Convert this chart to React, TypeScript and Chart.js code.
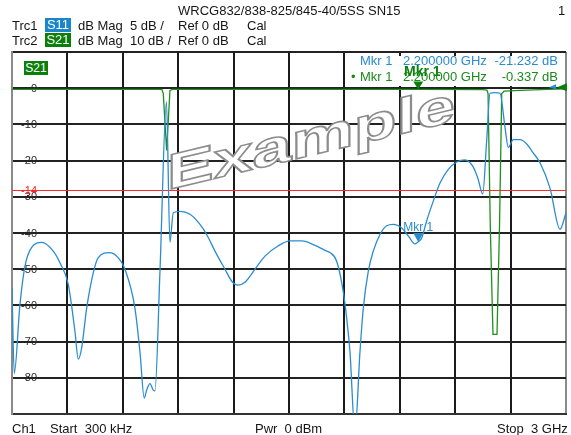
import React, { useEffect, useRef } from 'react';
import { Chart, registerables } from 'chart.js';

Chart.register(...registerables);

// ---------- data ----------
const FREQ_START_GHZ = 0.0003;
const FREQ_STOP_GHZ = 3;
const X_GRID_GHZ = [0.0003, 0.3, 0.6, 0.9, 1.2, 1.5, 1.8, 2.1, 2.4, 2.7, 3.0];

// S21 scale: 10 dB/div, ref 0 dB
const Y_GRID_DB = [10, 0, -10, -20, -30, -40, -50, -60, -70, -80, -90];
const Y_TICK_LABELS = ['', '0', '-10', '-20', '-30', '-40', '-50', '-60', '-70', '-80', ''];
// S11 scale: 5 dB/div, ref 0 dB
const S11_SCALE_MIN = -45;
const S11_SCALE_MAX = 5;

const S11_FREQ = [
  0.0003, 0.0125, 0.0433, 0.0704, 0.1067, 0.1608, 0.2236, 0.2599, 0.3049, 0.3412,
  0.359, 0.3774, 0.4045, 0.4403, 0.4673, 0.5307, 0.5848, 0.6119, 0.6661, 0.6931,
  0.7164, 0.7294, 0.7473, 0.7652, 0.7744, 0.8015, 0.8366, 0.8556, 0.8735, 0.9097,
  0.9639, 1.0181, 1.0543, 1.0993, 1.1534, 1.1913, 1.2238, 1.2617, 1.3159, 1.37,
  1.4404, 1.5054, 1.5704, 1.6408, 1.695, 1.722, 1.7583, 1.794, 1.8125, 1.8303,
  1.8574, 1.8845, 1.9024, 1.9294, 1.9565, 1.9928, 2.029, 2.0648, 2.1103, 2.146,
  2.1823, 2.2, 2.2186, 2.2457, 2.2814, 2.3177, 2.3627, 2.4081, 2.4531, 2.4981,
  2.5235, 2.5489, 2.5706, 2.5885, 2.6156, 2.6426, 2.6697, 2.6876, 2.7146, 2.7509,
  2.7872, 2.8213, 2.8592, 2.9134, 2.9675, 3.0,
];
const S11_DB = [
  -27.6, -39.4, -29.9, -24.6, -22.0, -21.3, -22.5, -24.1, -27.1, -33.6,
  -37.4, -35.9, -30.4, -25.5, -23.4, -22.7, -23.7, -25.0, -30.4, -36.4,
  -42.8, -41.7, -40.8, -41.7, -41.8, -25.3, -1.9, -21.3, -17.2, -17.0,
  -17.4, -18.8, -20.2, -22.5, -25.0, -26.7, -27.2, -26.8, -25.0, -23.2,
  -21.8, -21.1, -21.1, -21.7, -22.4, -22.7, -23.9, -28.1, -31.8, -36.4,
  -47.5, -36.4, -30.4, -25.3, -22.5, -20.2, -19.0, -18.8, -19.3, -20.4,
  -21.5, -21.232, -20.7, -18.3, -15.6, -13.1, -11.2, -10.2, -9.9, -10.9,
  -12.5, -14.6, -7.2, -0.7, -0.6, -0.7, -5.4, -8.2, -7.1, -7.1,
  -7.7, -8.9, -10.3, -13.8, -19.5, -17.2,
];

const S21_FREQ = [
  0.0003, 0.4, 0.8, 0.812, 0.8194, 0.8377, 0.8556, 0.87, 1.5, 2.2,
  2.55, 2.572, 2.578, 2.59, 2.6047, 2.6264, 2.64, 2.652, 2.665, 2.75,
  2.9, 3.0,
];
const S21_DB = [
  -0.3, -0.3, -0.3, -0.4, -1.5, -17.2, -0.6, -0.3, -0.3, -0.337,
  -0.4, -0.5, -1.5, -38, -68, -68, -38, -1.5, -0.8, -0.6,
  -0.3, -0.2,
];

const S11_LIMIT_DB = [-14];
const MARKER_FREQ_GHZ = [2.2];
const MARKER_S11_DB = [-21.232];
const MARKER_S21_DB = [-0.337];
const REF_LEVEL_DB = [0];

// ---------- styles ----------
const BLUE = '#2a8ccf';
const GREEN = '#1f8f1f';
const GREEN_DARK = '#0a7f0a';
const FONT = '"Liberation Sans", Arial, sans-serif';

const overlayPlugin = {
  id: 'vnaOverlay',
  beforeDatasetsDraw(chart: any) {
    const { ctx, chartArea } = chart;
    const ys = chart.scales.y;
    const y2 = chart.scales.y2;

    // watermark
    ctx.save();
    ctx.translate(chartArea.left + 155, 190);
    ctx.transform(1, -0.24, 0, 1, 0, 0);
    ctx.scale(1.4, 1);
    ctx.font = `bold 50px ${FONT}`;
    ctx.textBaseline = 'alphabetic';
    ctx.textAlign = 'left';
    ctx.fillStyle = '#ffffff';
    ctx.fillText('Example', 0, 0);
    ctx.lineWidth = 1.6;
    ctx.strokeStyle = '#8c8c8c';
    ctx.lineJoin = 'miter';
    ctx.strokeText('Example', 0, 0);
    ctx.restore();

    // y tick labels
    ctx.save();
    ctx.font = `11px ${FONT}`;
    ctx.textAlign = 'right';
    ctx.textBaseline = 'middle';
    ctx.fillStyle = '#2a2a2a';
    ys.ticks.forEach((t: any, i: number) => {
      const lbl = Y_TICK_LABELS[Y_GRID_DB.indexOf(t.value)];
      if (!lbl) return;
      ctx.fillText(lbl, chartArea.left + 25, ys.getPixelForValue(t.value) + 0.5);
    });
    ctx.restore();

    // S11 limit line
    S11_LIMIT_DB.forEach((v) => {
      const y = Math.round(y2.getPixelForValue(v)) + 0.5;
      ctx.save();
      ctx.strokeStyle = '#ff2a2a';
      ctx.lineWidth = 1;
      ctx.beginPath();
      ctx.moveTo(chartArea.left, y);
      ctx.lineTo(chartArea.right, y);
      ctx.stroke();
      ctx.font = `11px ${FONT}`;
      ctx.textAlign = 'right';
      ctx.textBaseline = 'middle';
      ctx.fillStyle = '#ff2020';
      ctx.fillText(String(v), chartArea.left + 25, y);
      ctx.restore();
    });

    // marker readout background
    ctx.save();
    ctx.fillStyle = '#ffffff';
    ctx.fillRect(350, 56, chartArea.right - 351, 30);
    ctx.restore();
  },
  afterDatasetsDraw(chart: any) {
    const { ctx, chartArea } = chart;
    const xs = chart.scales.x;
    const ys = chart.scales.y;
    const y2 = chart.scales.y2;
    MARKER_FREQ_GHZ.forEach((f, i) => {
      const x = xs.getPixelForValue(f);
      // S11 marker
      const yb = y2.getPixelForValue(MARKER_S11_DB[i]);
      ctx.save();
      ctx.fillStyle = BLUE;
      ctx.beginPath();
      ctx.moveTo(x - 5, yb - 9);
      ctx.lineTo(x + 5, yb - 9);
      ctx.lineTo(x, yb);
      ctx.closePath();
      ctx.fill();
      ctx.font = `12px ${FONT}`;
      ctx.textAlign = 'center';
      ctx.textBaseline = 'alphabetic';
      ctx.fillText('Mkr 1', x, yb - 11);
      ctx.restore();
      // S21 marker
      const yg = ys.getPixelForValue(MARKER_S21_DB[i]);
      ctx.save();
      ctx.fillStyle = GREEN_DARK;
      ctx.beginPath();
      ctx.moveTo(x - 5, yg - 8);
      ctx.lineTo(x + 5, yg - 8);
      ctx.lineTo(x, yg);
      ctx.closePath();
      ctx.fill();
      ctx.font = `bold 14px ${FONT}`;
      ctx.textAlign = 'center';
      ctx.textBaseline = 'alphabetic';
      ctx.fillText('Mkr 1', x + 4, yg - 13);
      ctx.restore();
    });
    // reference level indicators at right edge
    REF_LEVEL_DB.forEach((v) => {
      const yr = ys.getPixelForValue(v) - 1;
      const xr = chartArea.right;
      ctx.save();
      ctx.fillStyle = BLUE;
      ctx.beginPath();
      ctx.moveTo(xr - 17, yr);
      ctx.lineTo(xr - 10, yr - 3);
      ctx.lineTo(xr - 10, yr + 2);
      ctx.closePath();
      ctx.fill();
      ctx.fillStyle = GREEN_DARK;
      ctx.beginPath();
      ctx.moveTo(xr - 9, yr);
      ctx.lineTo(xr + 1, yr - 4);
      ctx.lineTo(xr + 1, yr + 4);
      ctx.closePath();
      ctx.fill();
      ctx.restore();
    });
  },
};

function Txt(props: { left: number; top: number; children: any; color?: string; right?: number; size?: number }) {
  const s: any = {
    position: 'absolute',
    top: props.top,
    whiteSpace: 'pre',
    fontFamily: FONT,
    fontSize: props.size || 13,
    lineHeight: '15px',
    color: props.color || '#151515',
  };
  if (props.right !== undefined) s.right = props.right;
  else s.left = props.left;
  return <div style={s}>{props.children}</div>;
}

function Badge(props: { left: number; top: number; w: number; h: number; bg: string; text: string; size: number }) {
  return (
    <div
      style={{
        position: 'absolute',
        left: props.left,
        top: props.top,
        width: props.w,
        height: props.h,
        background: props.bg,
        color: '#ffffff',
        fontFamily: FONT,
        fontSize: props.size,
        lineHeight: props.h + 'px',
        textAlign: 'center',
        whiteSpace: 'pre',
      }}
    >
      {props.text}
    </div>
  );
}

export default function App() {
  const ref = useRef<HTMLCanvasElement | null>(null);

  useEffect(() => {
    if (!ref.current) return;
    const chart = new Chart(ref.current, {
      type: 'line',
      data: {
        datasets: [
          {
            label: 'S11',
            data: S11_FREQ.map((f, i) => ({ x: f, y: S11_DB[i] })),
            yAxisID: 'y2',
            borderColor: BLUE,
            borderWidth: 1.3,
            pointRadius: 0,
            fill: false,
            cubicInterpolationMode: 'monotone',
          },
          {
            label: 'S21',
            data: S21_FREQ.map((f, i) => ({ x: f, y: S21_DB[i] })),
            yAxisID: 'y',
            borderColor: GREEN,
            borderWidth: 1.3,
            pointRadius: 0,
            fill: false,
            tension: 0,
          },
        ],
      } as any,
      options: {
        responsive: false,
        maintainAspectRatio: false,
        animation: false,
        events: [],
        layout: { padding: { left: 12, right: 5, top: 52, bottom: 21 } },
        plugins: {
          legend: { display: false },
          tooltip: { enabled: false },
          title: { display: false },
        },
        scales: {
          x: {
            type: 'linear',
            min: FREQ_START_GHZ,
            max: FREQ_STOP_GHZ,
            ticks: { display: false },
            grid: {
              drawTicks: false,
              lineWidth: 2,
              color: (c: any) =>
                c.index === 0 || c.index === X_GRID_GHZ.length - 1 ? '#8a8a8a' : '#1a1a1a',
            },
            border: { display: true, color: '#333333', width: 2 },
            afterBuildTicks: (s: any) => {
              s.ticks = X_GRID_GHZ.map((v) => ({ value: v }));
            },
          },
          y: {
            type: 'linear',
            position: 'left',
            min: Y_GRID_DB[Y_GRID_DB.length - 1],
            max: Y_GRID_DB[0],
            ticks: { display: false },
            grid: { drawTicks: false, lineWidth: 2, color: '#222222' },
            border: { display: true, color: '#8a8a8a', width: 2 },
            afterBuildTicks: (s: any) => {
              s.ticks = Y_GRID_DB.map((v) => ({ value: v }));
            },
          },
          y2: {
            type: 'linear',
            min: S11_SCALE_MIN,
            max: S11_SCALE_MAX,
            display: false,
          },
        },
      } as any,
      plugins: [overlayPlugin],
    });
    return () => chart.destroy();
  }, []);

  return (
    <div style={{ position: 'fixed', left: 0, top: 0, width: 571, height: 435, background: '#ffffff', overflow: 'hidden' }}>
      <canvas ref={ref} width={571} height={435} style={{ position: 'absolute', left: 0, top: 0, width: 571, height: 435 }} />
      <div style={{ position: 'absolute', left: 0, top: 0, width: 571, height: 435, pointerEvents: 'none' }}>
        <Txt left={178} top={3}>WRCG832/838-825/845-40/5SS SN15</Txt>
        <Txt left={558} top={3}>1</Txt>

        <Txt left={12} top={18}>Trc1</Txt>
        <Badge left={45} top={18} w={26} h={14} bg="#1a86c9" text="S11" size={13} />
        <Txt left={78} top={18}>dB Mag</Txt>
        <Txt left={130} top={18}>5 dB /</Txt>
        <Txt left={178} top={18}>Ref 0 dB</Txt>
        <Txt left={247} top={18}>Cal</Txt>

        <Txt left={12} top={33}>Trc2</Txt>
        <Badge left={45} top={33} w={26} h={14} bg="#0a7f0a" text="S21" size={13} />
        <Txt left={78} top={33}>dB Mag</Txt>
        <Txt left={130} top={33}>10 dB /</Txt>
        <Txt left={178} top={33}>Ref 0 dB</Txt>
        <Txt left={247} top={33}>Cal</Txt>

        <Badge left={24} top={61} w={24} h={14} bg="#0a7f0a" text="S21" size={12} />

        <Txt left={360} top={53} color={BLUE}>Mkr 1</Txt>
        <Txt left={403} top={53} color={BLUE}>2.200000 GHz</Txt>
        <Txt left={0} right={13} top={53} color={BLUE}>-21.232 dB</Txt>
        <Txt left={351} top={69} color="#1b8a1b">•</Txt>
        <Txt left={360} top={69} color="#1b8a1b">Mkr 1</Txt>
        <Txt left={403} top={69} color="#1b8a1b">2.200000 GHz</Txt>
        <Txt left={0} right={13} top={69} color="#1b8a1b">-0.337 dB</Txt>

        <Txt left={12} top={421}>Ch1</Txt>
        <Txt left={50} top={421}>Start  300 kHz</Txt>
        <Txt left={255} top={421}>Pwr  0 dBm</Txt>
        <Txt left={497} top={421}>Stop  3 GHz</Txt>
      </div>
    </div>
  );
}
